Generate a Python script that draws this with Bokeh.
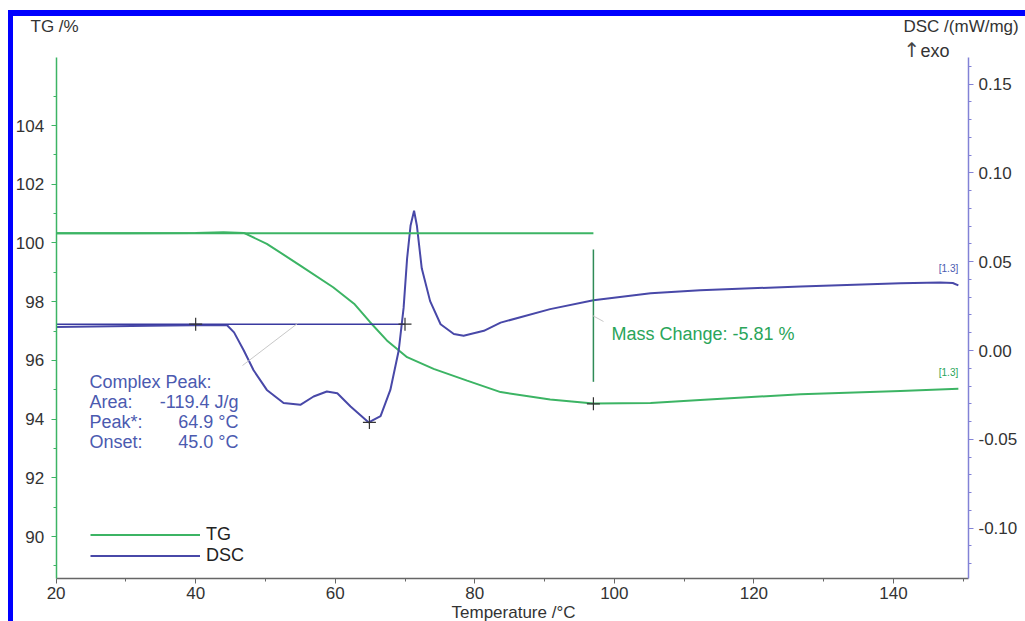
from bokeh.plotting import figure
from bokeh.models import Range1d, LinearAxis, Label, Legend, LegendItem, FixedTicker, PrintfTickFormatter
from bokeh.embed import file_html
from bokeh.resources import INLINE

# ---------------- data ----------------
temp_tg = [20, 30, 40, 44, 46.9, 50.2, 55.0, 59.7, 62.7, 65.0, 67.4, 70.3, 74.1, 78.9,
           83.7, 90.8, 97.0, 105.2, 112.3, 126.7, 141.0, 149.3]
tg = [100.33, 100.33, 100.34, 100.36, 100.34, 99.97, 99.23, 98.49, 97.93, 97.30, 96.68,
      96.11, 95.71, 95.31, 94.92, 94.67, 94.53, 94.55, 94.65, 94.85, 94.96, 95.03]

temp_dsc = [20, 33.5, 42.8, 44.5, 45.5, 46.9, 48.3, 50.2, 52.6, 55.0, 56.9, 58.8, 60.3,
            62.2, 64.8, 66.5, 67.9, 69.1, 69.8, 70.3, 70.8, 71.3, 71.7, 72.4, 73.6, 75.1,
            77.0, 78.4, 81.3, 83.7, 90.8, 97.0, 105.2, 112.3, 126.7, 141.0, 146.7, 148.5, 149.3]
dsc = [0.0133, 0.0139, 0.0144, 0.0142, 0.0102, 0.0, -0.0111, -0.0222, -0.0296, -0.0306,
       -0.0259, -0.0231, -0.0241, -0.0315, -0.0405, -0.0370, -0.0222, 0.0, 0.024, 0.0518,
       0.0704, 0.0787, 0.0704, 0.0463, 0.0278, 0.0148, 0.0093, 0.0083, 0.0111, 0.0157,
       0.0233, 0.0283, 0.0322, 0.0339, 0.0361, 0.0378, 0.0383, 0.0380, 0.0367]

# evaluation results
tg_start = 100.33
tg_end = 94.52
mass_T = 97.0
dsc_baseline = 0.0148
baseline_T = [20, 70]
onset_T = 40.0
peak_T = 64.9
peak_dsc = -0.0405

x_ticks = [20, 40, 60, 80, 100, 120, 140]
x_minor = [30, 50, 70, 90, 110, 130, 150]
tg_ticks = [90, 92, 94, 96, 98, 100, 102, 104]
tg_minor = [89, 91, 93, 95, 97, 99, 101, 103, 105]
dsc_ticks = [-0.10, -0.05, 0.0, 0.05, 0.10, 0.15]
dsc_minor = [round(-0.12 + 0.01 * i, 2) for i in range(29)]

# ---------------- layout geometry (page pixels) ----------------
CX0, CY0 = 13, 16           # canvas origin on the page
W, H = 1012, 605            # canvas size
FL, FR, FT, FB = 55.6, 968, 57, 578   # plot frame edges


def T_at(px):
    return 20 + (px - 55.6) / 6.978


def TG_at(py):
    return 104 - (py - 125) / 29.36


def DSC_at(py):
    return (350 - py) / 1776


GREEN = "#3cb464"
DKGREEN = "#2e8b57"
BLUE = "#4848a8"
TXTBLUE = "#4b5ab0"
AXBLUE = "#8282d6"
TXTGREEN = "#2aa55a"
FONT = "Liberation Sans"

p = figure(width=W, height=H,
           x_range=Range1d(T_at(CX0), T_at(CX0 + W)),
           y_range=Range1d(TG_at(CY0 + H), TG_at(CY0)),
           output_backend="svg", toolbar_location=None, title_location=None,
           x_axis_location=None, y_axis_location=None,
           min_border=0, min_border_left=0, min_border_right=0, min_border_top=0, min_border_bottom=0,
           styles={"margin-left": f"{CX0}px", "margin-top": f"{CY0}px",
                   "box-shadow": "-5px 0 0 0 #0000ff, 0 -6px 0 0 #0000ff, -5px -6px 0 0 #0000ff"})
p.extra_y_ranges = {"dsc": Range1d(DSC_at(CY0 + H), DSC_at(CY0))}
p.grid.visible = False
p.outline_line_color = None
p.background_fill_color = "white"
p.border_fill_color = "white"

# axes drawn at fixed positions inside the canvas
xa = LinearAxis(fixed_location=TG_at(FB), bounds=(20, T_at(FR)),
                ticker=FixedTicker(ticks=x_ticks, minor_ticks=x_minor))
p.add_layout(xa, "below")
ya = LinearAxis(fixed_location=20, bounds=(TG_at(FB), TG_at(FT)),
                ticker=FixedTicker(ticks=tg_ticks, minor_ticks=tg_minor))
p.add_layout(ya, "left")
ra = LinearAxis(y_range_name="dsc", fixed_location=T_at(FR), bounds=(DSC_at(FB), DSC_at(FT)),
                ticker=FixedTicker(ticks=dsc_ticks, minor_ticks=dsc_minor),
                formatter=PrintfTickFormatter(format="%.2f"))
p.add_layout(ra, "right")

for ax, col in ((xa, "#666666"), (ya, GREEN), (ra, AXBLUE)):
    ax.axis_line_color = col
    ax.axis_line_width = 1.5
    ax.major_tick_in = 0
    ax.major_tick_out = 5
    ax.minor_tick_in = 0
    ax.minor_tick_out = 3
    ax.major_tick_line_color = col
    ax.minor_tick_line_color = col
    ax.major_label_text_font = FONT
    ax.major_label_text_font_size = "17px"
    ax.major_label_text_color = "#333333"
    ax.major_label_standoff = 5
xa.major_label_standoff = 3
ya.major_label_standoff = 7

# curves
tg_r = p.line(temp_tg, tg, line_color=GREEN, line_width=2)
dsc_r = p.line(temp_dsc, dsc, line_color=BLUE, line_width=2, y_range_name="dsc")

# evaluation lines
p.line([20, mass_T], [tg_start, tg_start], line_color=GREEN, line_width=2)
p.segment(x0=[mass_T], y0=[tg_start - 0.55], x1=[mass_T], y1=[tg_end + 0.75],
          line_color=DKGREEN, line_width=1.5)
p.line(baseline_T, [dsc_baseline, dsc_baseline], line_color="#3a3aa0", line_width=1.5, y_range_name="dsc")
p.scatter([onset_T, baseline_T[1], peak_T], [dsc_baseline, dsc_baseline, peak_dsc], marker="cross",
          size=13, line_color="#333333", line_width=1.2, y_range_name="dsc")
p.scatter([mass_T], [tg_end], marker="cross", size=13, line_color="#333333", line_width=1.2)
p.segment(x0=[T_at(242)], y0=[DSC_at(365)], x1=[T_at(297)], y1=[DSC_at(323)],
          line_color="#c8c8c8", line_width=1, y_range_name="dsc")
p.segment(x0=[T_at(592)], y0=[TG_at(315)], x1=[T_at(603)], y1=[TG_at(321)],
          line_color="#c8c8c8", line_width=1)


# texts (positions given in page pixels)
def lab(px, py, text, color="#333333", size="18px", align="left", font=FONT):
    p.add_layout(Label(x=T_at(px), y=TG_at(py), text=text, text_color=color, text_font=font,
                       text_font_size=size, text_align=align, text_baseline="middle"))


lab(89, 381, "Complex Peak:", TXTBLUE)
lab(89, 401, "Area:", TXTBLUE)
lab(89, 421, "Peak*:", TXTBLUE)
lab(89, 441, "Onset:", TXTBLUE)
lab(238, 401, "-119.4 J/g", TXTBLUE, align="right")
lab(238, 421, "64.9 °C", TXTBLUE, align="right")
lab(238, 441, "45.0 °C", TXTBLUE, align="right")
lab(611, 333, "Mass Change: -5.81 %", TXTGREEN)
lab(948, 268, "[1.3]", TXTBLUE, size="10px", align="center")
lab(948, 372, "[1.3]", TXTGREEN, size="10px", align="center")
lab(30, 26, "TG /%", "#333333", size="17px")
lab(903, 26, "DSC /(mW/mg)", "#333333", size="17px")
lab(903, 49, "↑", "#444444", size="20px", font="DejaVu Sans")
lab(920, 50, "exo", "#333333", size="18px")
lab(513, 612, "Temperature /°C", "#333333", size="17px", align="center")

legend = Legend(items=[LegendItem(label="TG", renderers=[tg_r]), LegendItem(label="DSC", renderers=[dsc_r])],
                location=(90 - CX0, H - (566 - CY0)), glyph_width=110, glyph_height=21,
                label_height=21, label_standoff=6, padding=0, spacing=0, margin=0,
                border_line_alpha=0, background_fill_alpha=0,
                label_text_font=FONT, label_text_font_size="18px", label_text_color="#222222")
p.add_layout(legend)

open("out.html", "w").write(file_html(p, INLINE))
